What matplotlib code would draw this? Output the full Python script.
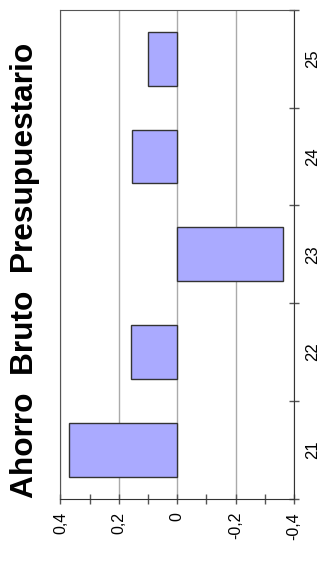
import matplotlib
matplotlib.use("Agg")
import matplotlib.pyplot as plt
import numpy as np

# datos
categorias = ["21", "22", "23", "24", "25"]
valores = [0.372, 0.159, -0.362, 0.155, 0.099]
ticks_valor = [0.4, 0.2, 0.0, -0.2, -0.4]
etiquetas_valor = ["0,4", "0,2", "0", "-0,2", "-0,4"]
titulo = "Ahorro  Bruto  Presupuestario"

plt.rcParams['font.family'] = ['Liberation Sans', 'DejaVu Sans']

fig = plt.figure(figsize=(3.34, 5.75), dpi=100)
ax = fig.add_axes([0.181, 0.1327, 0.699, 0.8499])

pos = np.arange(len(categorias))
ax.barh(pos, valores, height=0.55, color="#AAAAFF", edgecolor="#333333", linewidth=1, zorder=3)

ax.set_xlim(0.4, -0.4)
ax.set_ylim(-0.5, len(categorias) - 0.5)

ax.set_xticks(ticks_valor)
ax.set_xticklabels(etiquetas_valor, rotation=90, fontsize=11.5)
ax.set_xticks([0.3, 0.1, -0.1, -0.3], minor=True)
ax.tick_params(axis="x", which="both", direction="inout", length=7, width=1, color="#555555", pad=6)
ax.grid(axis="x", which="major", color="#AAAAAA", linewidth=1, zorder=0)

ax.yaxis.tick_right()
ax.set_yticks(np.arange(len(categorias) + 1) - 0.5)
ax.set_yticklabels([])
ax.set_yticks(pos, minor=True)
ax.set_yticklabels(categorias, minor=True, rotation=90, va="center", fontsize=12)
ax.tick_params(axis="y", which="major", direction="inout", length=7, width=1, color="#555555")
ax.tick_params(axis="y", which="minor", length=0, pad=8)

for s in ["top", "left"]:
    ax.spines[s].set_color("#555555")
for s in ["right", "bottom"]:
    ax.spines[s].set_color("#333333")

fig.text(0.075, 0.530, titulo, rotation=90, ha="center", va="center",
         fontsize=22.8, fontweight="bold")

fig.savefig("out.png", dpi=100)
